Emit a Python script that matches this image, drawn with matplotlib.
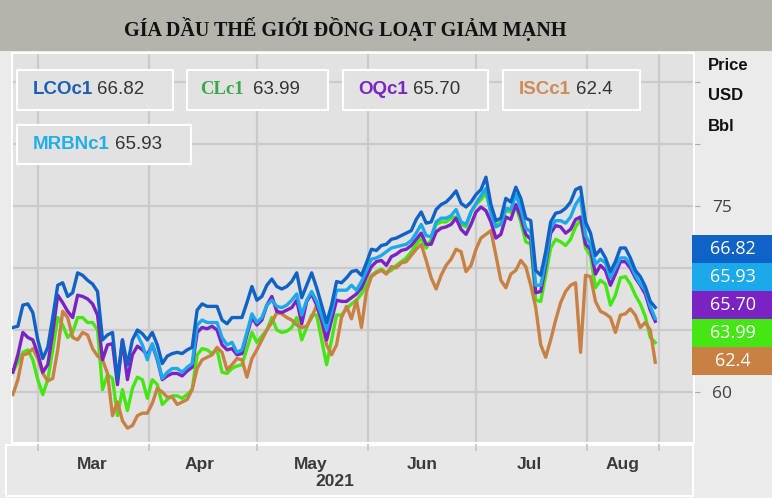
import numpy as np
import pandas as pd
import matplotlib
matplotlib.use("Agg")
import matplotlib.pyplot as plt
import matplotlib.dates as mdates
from matplotlib.patches import Rectangle

# ---------------- data ----------------
dates = pd.date_range("2021-02-22", "2021-08-20", periods=130)

lco = [65.2, 65.3, 67.0, 67.1, 66.4, 64.2, 62.7, 63.6, 66.0, 68.6,
       68.8, 67.7, 68.0, 69.6, 69.4, 69.0, 68.7, 68.1, 64.2, 64.6,
       64.8, 61.0, 64.2, 62.2, 64.2, 65.0, 64.7, 64.2, 64.8, 63.8,
       62.3, 62.9, 63.1, 63.2, 63.1, 63.4, 63.6, 66.6, 67.1, 66.9,
       66.9, 66.9, 65.8, 65.5, 66.0, 66.0, 66.0, 67.2, 68.5, 67.4,
       67.7, 68.6, 69.1, 68.5, 68.3, 68.5, 68.9, 69.6, 67.6, 68.6,
       69.6, 68.4, 67.0, 65.6, 67.0, 68.9, 68.8, 69.2, 69.7, 69.8,
       69.4, 70.4, 71.5, 71.4, 71.8, 71.9, 72.3, 72.4, 72.6, 72.8,
       73.0, 73.9, 74.5, 73.6, 73.7, 74.7, 75.1, 75.3, 75.7, 76.2,
       75.2, 74.9, 75.3, 75.9, 76.3, 77.3, 75.1, 73.8, 74.0, 75.6,
       75.3, 76.5, 75.6, 74.0, 73.8, 69.8, 69.4, 71.3, 73.7, 74.4,
       74.5, 74.8, 75.3, 76.3, 76.5, 73.7, 72.8, 71.0, 71.5, 70.8,
       69.7, 70.5, 71.6, 71.6, 70.8, 69.8, 69.3, 68.5, 67.3, 66.82]

mrbn = [np.nan] * 25 + [
       64.6, 63.8, 62.6, 63.9, 62.7,
       61.1, 61.6, 61.9, 61.9, 61.6, 62.0, 62.3, 65.4, 65.8, 65.6,
       65.6, 65.6, 64.4, 63.8, 64.0, 63.2, 63.4, 64.8, 66.3, 65.6,
       66.0, 67.0, 67.4, 66.9, 66.8, 67.0, 67.4, 67.9, 66.2, 67.4,
       68.1, 67.3, 66.2, 65.0, 66.5, 68.2, 68.2, 68.2, 68.6, 68.2,
       68.9, 69.8, 70.7, 70.8, 71.0, 71.3, 71.6, 71.7, 71.8, 71.9,
       72.2, 72.8, 73.5, 72.6, 72.5, 73.7, 74.0, 74.0, 74.2, 74.7,
       73.7, 73.5, 74.5, 75.2, 75.8, 76.4, 74.4, 73.3, 73.5, 74.8,
       74.7, 75.9, 74.8, 73.2, 72.9, 68.6, 68.6, 70.6, 73.2, 73.8,
       73.8, 73.6, 74.1, 75.1, 75.7, 72.6, 71.9, 70.3, 70.7, 70.4,
       69.2, 70.0, 70.8, 70.8, 70.3, 69.4, 68.7, 68.2, 66.9, 65.93]

oq = [61.6, 63.0, 64.8, 64.4, 64.2, 63.1, 61.6, 62.2, 64.8, 67.8,
      67.2, 66.5, 66.0, 67.8, 67.7, 67.5, 67.1, 66.2, 62.6, 63.8,
      63.9, 60.6, 64.2, 61.0, 63.0, 63.7, 63.4, 63.0, 63.8, 62.6,
      61.0, 61.3, 61.5, 61.5, 61.3, 61.7, 62.0, 64.8, 65.2, 65.1,
      65.3, 65.0, 63.8, 63.4, 63.5, 63.0, 63.1, 64.6, 66.0, 65.4,
      65.8, 67.0, 67.7, 66.5, 66.4, 66.6, 66.8, 67.4, 65.5, 67.3,
      67.9, 67.0, 65.8, 64.2, 65.8, 67.4, 67.3, 67.3, 67.6, 67.9,
      68.4, 69.3, 70.1, 70.5, 70.6, 70.2, 70.9, 71.1, 71.4, 71.5,
      71.8, 72.3, 72.8, 71.9, 71.9, 72.9, 73.2, 73.3, 73.5, 74.0,
      73.1, 72.7, 73.5, 74.5, 74.9, 74.6, 73.7, 72.4, 72.7, 74.1,
      73.9, 75.1, 74.1, 72.7, 72.3, 68.0, 68.1, 70.2, 72.8, 73.4,
      73.3, 72.8, 73.1, 73.9, 74.1, 71.9, 71.5, 69.5, 70.2, 69.8,
      68.6, 69.5, 70.5, 70.5, 70.0, 69.2, 68.6, 67.9, 66.6, 65.70]

cl = [61.6, 62.4, 63.2, 63.4, 62.6, 61.0, 59.8, 61.0, 63.4, 66.0,
      65.4, 64.4, 64.8, 66.0, 66.0, 65.6, 65.6, 65.0, 60.2, 61.4,
      61.1, 58.1, 60.2, 58.5, 60.3, 61.2, 61.0, 59.5, 61.0, 60.6,
      59.0, 59.4, 59.7, 59.7, 59.5, 59.8, 60.2, 63.0, 63.5, 63.4,
      63.1, 63.4, 61.6, 61.5, 61.9, 62.1, 62.2, 63.5, 64.8, 64.0,
      64.5, 65.0, 66.0, 65.0, 64.8, 64.9, 65.2, 66.0, 64.2, 65.2,
      66.2, 66.2, 64.2, 62.2, 64.2, 66.2, 66.2, 66.7, 67.1, 67.4,
      67.9, 68.7, 69.4, 69.7, 69.9, 69.6, 69.8, 70.2, 70.5, 70.8,
      71.3, 71.9, 72.4, 71.6, 72.3, 73.5, 73.7, 73.7, 74.0, 74.1,
      73.5, 73.3, 74.5, 75.1, 75.5, 76.0, 74.5, 73.4, 73.7, 74.6,
      74.5, 75.0, 73.7, 72.1, 71.9, 67.4, 67.3, 69.4, 71.6, 72.3,
      72.1, 71.8, 72.3, 73.3, 73.9, 71.6, 71.0, 68.4, 69.0, 68.7,
      67.0, 67.8, 69.2, 69.3, 68.7, 67.8, 67.1, 66.1, 64.4, 63.99]

isc = [59.8, 61.0, 63.0, 63.1, 63.5, 62.7, 61.5, 60.9, 61.1, 63.4,
       66.5, 66.0, 64.4, 64.2, 64.8, 64.6, 63.5, 62.9, 62.6, 61.5,
       58.1, 59.2, 57.7, 57.1, 57.3, 58.1, 58.3, 58.3, 59.1, 60.3,
       60.0, 59.6, 59.6, 59.0, 59.2, 59.4, 60.2, 61.9, 62.6, 62.8,
       63.0, 63.6, 63.2, 61.8, 62.2, 62.7, 62.6, 61.2, 62.7, 63.4,
       64.2, 65.0, 65.6, 66.4, 66.3, 66.0, 65.8, 65.4, 65.2, 65.3,
       66.0, 67.0, 65.6, 63.8, 63.0, 63.8, 66.0, 66.9, 65.9, 67.4,
       65.2, 68.1, 69.3, 69.6, 69.8, 69.5, 70.1, 70.0, 70.4, 70.5,
       71.0, 71.5, 71.9, 70.6, 69.2, 68.3, 69.4, 70.2, 70.7, 71.5,
       71.3, 69.7, 70.2, 71.5, 72.4, 72.7, 73.0, 71.0, 69.0, 68.4,
       69.5, 69.8, 70.6, 70.1, 68.6, 66.8, 63.8, 62.8, 64.2, 65.8,
       67.2, 68.1, 68.6, 68.8, 63.2, 69.4, 69.3, 67.3, 66.5, 66.3,
       66.0, 64.8, 66.2, 66.3, 66.7, 66.2, 65.2, 65.6, 65.0, 62.4]

series_names = ["LCOc1", "CLc1", "OQc1", "ISCc1", "MRBNc1"]
series_last = ["66.82", "63.99", "65.70", "62.4", "65.93"]
box_order = ["LCOc1", "MRBNc1", "OQc1", "CLc1", "ISCc1"]

month_starts = ["2021-03-01", "2021-04-01", "2021-05-01", "2021-06-01",
                "2021-07-01", "2021-08-01", "2021-08-21"]
month_label_dates = ["2021-03-16", "2021-04-15", "2021-05-16", "2021-06-16",
                     "2021-07-16", "2021-08-11"]
month_labels = ["Mar", "Apr", "May", "Jun", "Jul", "Aug"]
year_label = "2021"
title = "GÍA DẦU THẾ GIỚI ĐỒNG LOẠT GIẢM MẠNH"

# ---------------- style ----------------
line_col = {"LCOc1": "#0f62c6", "MRBNc1": "#1ba9ec", "OQc1": "#7a22c2",
            "CLc1": "#46e614", "ISCc1": "#c98043"}
name_col = {"LCOc1": "#1a5fb4", "MRBNc1": "#22aee6", "OQc1": "#7a26c0",
            "CLc1": "#3aa84a", "ISCc1": "#d08a55"}
data = {"LCOc1": lco, "MRBNc1": mrbn, "OQc1": oq, "CLc1": cl, "ISCc1": isc}

W, H = 772, 498
fig = plt.figure(figsize=(W / 100, H / 100), dpi=100)
fig.patch.set_facecolor("#ebebeb")


def fx(px):
    return px / W


def fy(py):
    return 1 - py / H


def frect(x0, y0, x1, y1, **kw):
    r = Rectangle((fx(x0), fy(y1)), fx(x1) - fx(x0), fy(y0) - fy(y1),
                  transform=fig.transFigure, **kw)
    fig.add_artist(r)
    return r


# title bar
frect(0, 0, W, 51, facecolor="#b4b4ac", edgecolor="none", zorder=0)
fig.text(fx(345), fy(29), title, ha="center", va="center",
         fontsize=14.5, fontweight="bold", family="Liberation Serif",
         color="#111111")

# x-axis strip
frect(6, 445, 693, 496, facecolor="#e8e8e8", edgecolor="white", lw=1.5, zorder=0)

# main axes
ax = fig.add_axes([fx(12), fy(443), fx(694) - fx(12), fy(53) - fy(443)])
ax.set_facecolor("#e2e2e2")
for s in ax.spines.values():
    s.set_color("white")
    s.set_linewidth(1.5)

for n in ["CLc1", "ISCc1", "OQc1", "MRBNc1", "LCOc1"]:
    ax.plot(dates, data[n], color=line_col[n], lw=2.4, solid_joinstyle="round",
            zorder=3)

# grid / ticks
grid_x = [mdates.date2num(pd.Timestamp(d)) for d in month_starts]
ax.set_xticks(grid_x)
ax.set_xticklabels([""] * len(grid_x))
ax.tick_params(axis="x", length=6, color="#c4c4c4", width=1.2, direction="out")
lab_x = [mdates.date2num(pd.Timestamp(d)) for d in month_label_dates]
ax.set_xticks(lab_x, minor=True)
ax.set_xticklabels(month_labels, minor=True)
ax.tick_params(axis="x", which="minor", length=0, pad=10, labelsize=12.5,
               labelcolor="#3a3a3a")
for t in ax.get_xticklabels(minor=True):
    t.set_fontweight("bold")
    t.set_family(["Liberation Sans Narrow", "Liberation Sans"])

yt = [55, 60, 65, 70, 75, 80, 85]
ax.set_yticks(yt)
ax.set_yticklabels(["", "60", "", "", "75", "", ""])
ax.yaxis.tick_right()
ax.tick_params(axis="y", length=4, color="#aaaaaa", pad=9, labelsize=12.5,
               labelcolor="#404040")
for t in ax.get_yticklabels():
    t.set_family("Open Sans")
ax.grid(True, which="major", color="#cacaca", lw=1.6)
ax.set_axisbelow(True)

# limits last (set_ticks may expand them)
x0 = mdates.date2num(pd.Timestamp("2021-03-01"))
ax.set_xlim(x0 - 7.25, x0 + 182.8)
ax.set_ylim(55.9, 87.3)

fig.text(fx(335), fy(481), year_label, ha="center", va="center",
         fontsize=12.5, fontweight="bold", color="#3a3a3a",
         family=["Liberation Sans Narrow", "Liberation Sans"])

# right-side unit label
for i, w in enumerate(["Price", "USD", "Bbl"]):
    fig.text(fx(708), fy(65 + 30.5 * i), w, ha="left", va="center",
             fontsize=12, fontweight="bold", family="Liberation Sans",
             color="#111111")

# stacked value boxes
for i, n in enumerate(box_order):
    ytop = 235 + 28 * i
    frect(692, ytop, W, ytop + 28, facecolor=line_col[n], edgecolor="none",
          zorder=2)
    val = series_last[series_names.index(n)]
    fig.text(fx(733), fy(ytop + 14), val, ha="center", va="center",
             fontsize=13, color="white", family="Open Sans", zorder=3)

# legend boxes
legend_boxes = {"LCOc1": (17, 70, 173, 110, 33, 97),
                "CLc1": (187, 70, 328, 110, 200, 253),
                "OQc1": (343, 70, 488, 110, 358, 413),
                "ISCc1": (503, 70, 640, 110, 519, 576),
                "MRBNc1": (17, 125, 191, 164, 33, 115)}
for n, (bx0, by0, bx1, by1, tx, vx) in legend_boxes.items():
    frect(bx0, by0, bx1, by1, facecolor="#e2e2e2", edgecolor="white", lw=1.5,
          zorder=4)
    cy = (by0 + by1) / 2
    fam = "Liberation Serif" if n == "CLc1" else "Liberation Sans"
    fig.text(fx(tx), fy(cy), n, ha="left", va="center", fontsize=13.5,
             fontweight="bold", color=name_col[n], family=fam, zorder=5)
    fig.text(fx(vx), fy(cy), series_last[series_names.index(n)], ha="left",
             va="center", fontsize=13.5, color="#333333",
             family="Liberation Sans", zorder=5)

fig.savefig("out.png", dpi=100, facecolor=fig.get_facecolor())
